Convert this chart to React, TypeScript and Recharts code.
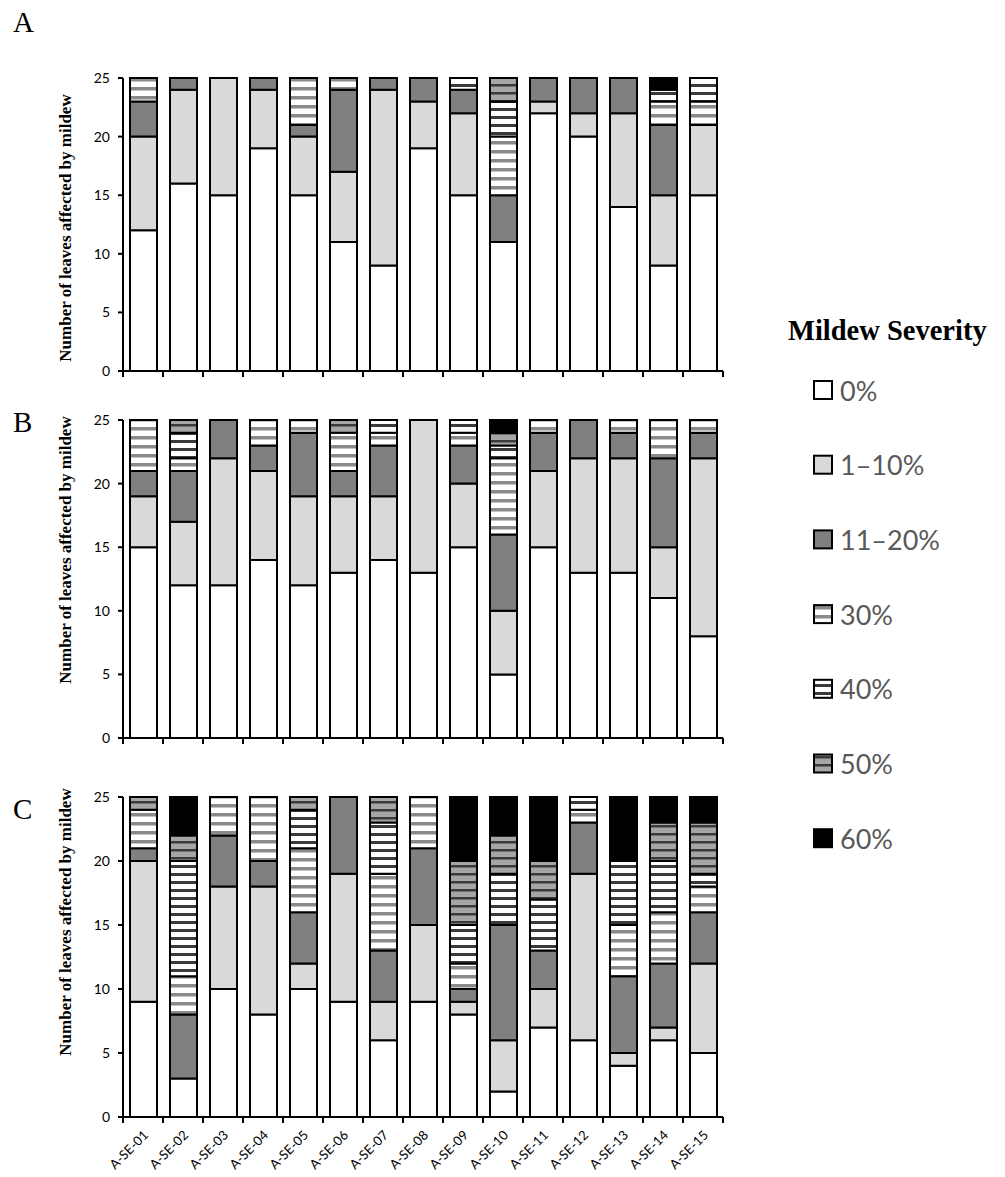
import React from "react";
import { Bar, BarChart, XAxis, YAxis } from "recharts";

const SITES = [
  "A-SE-01", "A-SE-02", "A-SE-03", "A-SE-04", "A-SE-05",
  "A-SE-06", "A-SE-07", "A-SE-08", "A-SE-09", "A-SE-10",
  "A-SE-11", "A-SE-12", "A-SE-13", "A-SE-14", "A-SE-15",
];

const LEVELS = ["0%", "1–10%", "11–20%", "30%", "40%", "50%", "60%"];
const KEYS = ["s0", "s1", "s2", "s30", "s40", "s50", "s60"];
const FILLS = ["#ffffff", "#d9d9d9", "#808080", "url(#p30)", "url(#p40)", "url(#p50)", "#000000"];
const Y_TICKS = [0, 5, 10, 15, 20, 25];

// panel A (leaves per severity class)
const A0 = [12, 16, 15, 19, 15, 11, 9, 19, 15, 11, 22, 20, 14, 9, 15];
const A1 = [8, 8, 10, 5, 5, 6, 15, 4, 7, 0, 1, 2, 8, 6, 6];
const A2 = [3, 1, 0, 1, 1, 7, 1, 2, 2, 4, 2, 3, 3, 6, 0];
const A30 = [2, 0, 0, 0, 4, 1, 0, 0, 0, 5, 0, 0, 0, 2, 2];
const A40 = [0, 0, 0, 0, 0, 0, 0, 0, 1, 3, 0, 0, 0, 1, 2];
const A50 = [0, 0, 0, 0, 0, 0, 0, 0, 0, 2, 0, 0, 0, 0, 0];
const A60 = [0, 0, 0, 0, 0, 0, 0, 0, 0, 0, 0, 0, 0, 1, 0];

// panel B
const B0 = [15, 12, 12, 14, 12, 13, 14, 13, 15, 5, 15, 13, 13, 11, 8];
const B1 = [4, 5, 10, 7, 7, 6, 5, 12, 5, 5, 6, 9, 9, 4, 14];
const B2 = [2, 4, 3, 2, 5, 2, 4, 0, 3, 6, 3, 3, 2, 7, 2];
const B30 = [4, 1, 0, 2, 1, 3, 1, 0, 1, 6, 1, 0, 1, 3, 1];
const B40 = [0, 2, 0, 0, 0, 0, 1, 0, 1, 1, 0, 0, 0, 0, 0];
const B50 = [0, 1, 0, 0, 0, 1, 0, 0, 0, 1, 0, 0, 0, 0, 0];
const B60 = [0, 0, 0, 0, 0, 0, 0, 0, 0, 1, 0, 0, 0, 0, 0];

// panel C
const C0 = [9, 3, 10, 8, 10, 9, 6, 9, 8, 2, 7, 6, 4, 6, 5];
const C1 = [11, 0, 8, 10, 2, 10, 3, 6, 1, 4, 3, 13, 1, 1, 7];
const C2 = [1, 5, 4, 2, 4, 6, 4, 6, 1, 9, 3, 4, 6, 5, 4];
const C30 = [3, 3, 3, 5, 5, 0, 6, 4, 2, 0, 0, 1, 4, 4, 2];
const C40 = [0, 9, 0, 0, 3, 0, 4, 0, 3, 4, 4, 1, 5, 4, 1];
const C50 = [1, 2, 0, 0, 1, 0, 2, 0, 5, 3, 3, 0, 0, 3, 4];
const C60 = [0, 3, 0, 0, 0, 0, 0, 0, 5, 3, 5, 0, 5, 2, 2];

const toRows = (cols: number[][]) =>
  SITES.map((site, i) => {
    const row: Record<string, any> = { site };
    KEYS.forEach((k, j) => (row[k] = cols[j][i]));
    return row;
  });

const dataA = toRows([A0, A1, A2, A30, A40, A50, A60]);
const dataB = toRows([B0, B1, B2, B30, B40, B50, B60]);
const dataC = toRows([C0, C1, C2, C30, C40, C50, C60]);

const CHART_W = 740;
const M_LEFT = 83;
const M_RIGHT = 17;
const Y_W = 40;
const STEP = (CHART_W - M_LEFT - Y_W - M_RIGHT) / SITES.length;

const Patterns = () => (
  <svg width={0} height={0} style={{ position: "absolute" }}>
    <defs>
      <pattern id="p30" patternUnits="userSpaceOnUse" width={10} height={9}>
        <rect width={10} height={9} fill="#ffffff" />
        <rect y={0} width={10} height={3.5} fill="#8a8a8a" />
      </pattern>
      <pattern id="p40" patternUnits="userSpaceOnUse" width={10} height={8}>
        <rect width={10} height={8} fill="#ffffff" />
        <rect y={0} width={10} height={3} fill="#3a3a3a" />
      </pattern>
      <pattern id="p50" patternUnits="userSpaceOnUse" width={10} height={8}>
        <rect width={10} height={8} fill="#a6a6a6" />
        <rect y={0} width={10} height={2.5} fill="#3a3a3a" />
      </pattern>
    </defs>
  </svg>
);

const SiteTick = (props: any) => {
  const { x, payload, index, axisY, showLabel } = props;
  const half = STEP / 2;
  const lx = x + 6;
  const ly = axisY + 19;
  return (
    <g>
      <line x1={x - half} x2={x - half} y1={axisY} y2={axisY + 6} stroke="#000" strokeWidth={2} />
      {index === SITES.length - 1 && (
        <line x1={x + half} x2={x + half} y1={axisY} y2={axisY + 6} stroke="#000" strokeWidth={2} />
      )}
      {showLabel && (
        <text
          x={lx}
          y={ly}
          transform={`rotate(-45, ${lx}, ${ly})`}
          textAnchor="end"
          fontSize={13}
          fontFamily="Lato"
          fill="#000"
        >
          {payload.value}
        </text>
      )}
    </g>
  );
};

type PanelProps = {
  data: any[];
  top: number;
  height: number;
  marginTop: number;
  xHeight: number;
  showLabels: boolean;
  letter: string;
  letterY: number;
  labelCenter: number;
};

const Panel = ({ data, top, height, marginTop, xHeight, showLabels, letter, letterY, labelCenter }: PanelProps) => {
  const axisY = height - xHeight;
  return (
    <>
      <div style={{ position: "absolute", left: 0, top }}>
        <BarChart
          width={CHART_W}
          height={height}
          data={data}
          margin={{ top: marginTop, right: M_RIGHT, bottom: 0, left: M_LEFT }}
          barSize={27}
        >
          <XAxis
            dataKey="site"
            interval={0}
            height={xHeight}
            tickLine={false}
            axisLine={{ stroke: "#000", strokeWidth: 2 }}
            tick={(p: any) => <SiteTick {...p} axisY={axisY} showLabel={showLabels} />}
          />
          <YAxis
            width={Y_W}
            domain={[0, 25]}
            ticks={Y_TICKS}
            tickSize={5}
            tickMargin={8}
            axisLine={{ stroke: "#000", strokeWidth: 2 }}
            tickLine={{ stroke: "#000", strokeWidth: 2 }}
            tick={{ fill: "#000", fontSize: 14, fontFamily: "Lato" }}
          />
          {KEYS.map((k, i) => (
            <Bar
              key={k}
              dataKey={k}
              stackId="a"
              fill={FILLS[i]}
              stroke="#000"
              strokeWidth={2}
              isAnimationActive={false}
            />
          ))}
        </BarChart>
      </div>
      <div
        style={{
          position: "absolute",
          left: 13,
          top: letterY,
          fontFamily: "'Liberation Serif', serif",
          fontSize: 29,
          lineHeight: "29px",
        }}
      >
        {letter}
      </div>
      <svg style={{ position: "absolute", left: 50, top: labelCenter - 160 }} width={30} height={320}>
        <text
          x={15}
          y={160}
          transform="rotate(-90, 15, 160)"
          textAnchor="middle"
          dominantBaseline="central"
          fontFamily="'Liberation Serif', serif"
          fontWeight="bold"
          fontSize={17}
          fill="#000"
        >
          Number of leaves affected by mildew
        </text>
      </svg>
    </>
  );
};

const Legend = () => (
  <svg style={{ position: "absolute", left: 780, top: 300 }} width={225} height={570}>
    <text x={8} y={40} fontFamily="'Liberation Serif', serif" fontWeight="bold" fontSize={28.5} fill="#000">
      Mildew Severity
    </text>
    {LEVELS.map((lv, i) => {
      const cy = 90 + i * 74.7;
      return (
        <g key={lv}>
          <rect x={34} y={cy - 9} width={18} height={18} fill={FILLS[i]} stroke="#000" strokeWidth={2} />
          <text x={60} y={cy} dominantBaseline="central" fontFamily="Lato" fontSize={27} fill="#595959">
            {lv}
          </text>
        </g>
      );
    })}
  </svg>
);

export default function App() {
  return (
    <div style={{ position: "absolute", left: 0, top: 0, width: 1005, height: 1177, background: "#fff", overflow: "hidden" }}>
      <Patterns />
      <Panel data={dataA} top={60} height={321} marginTop={18} xHeight={10} showLabels={false} letter="A" letterY={8} labelCenter={228} />
      <Panel data={dataB} top={400} height={348} marginTop={20} xHeight={10} showLabels={false} letter="B" letterY={408} labelCenter={550} />
      <Panel data={dataC} top={777} height={400} marginTop={20} xHeight={60} showLabels={true} letter="C" letterY={795} labelCenter={922} />
      <Legend />
    </div>
  );
}
